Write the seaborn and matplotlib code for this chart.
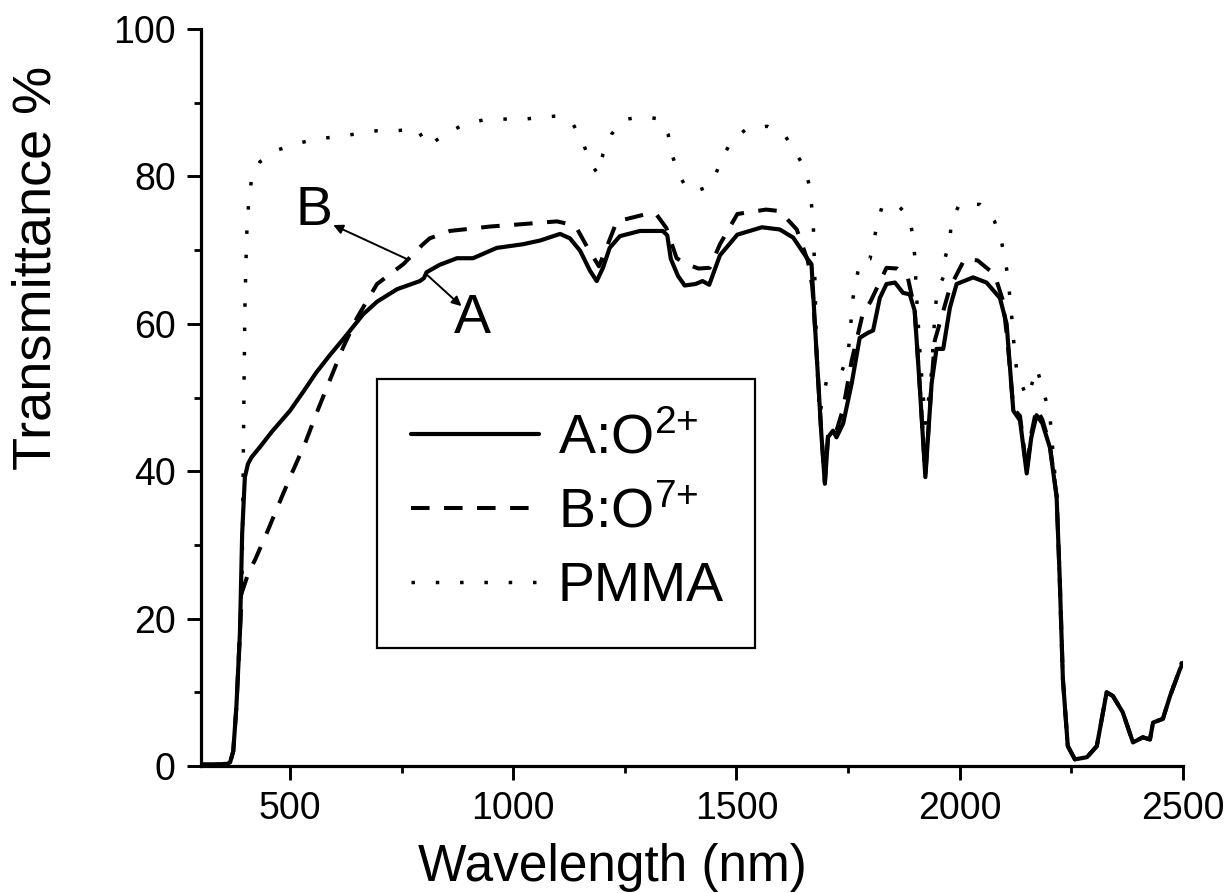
import numpy as np
import pandas as pd
import matplotlib
matplotlib.use("Agg")
import matplotlib.pyplot as plt
from matplotlib.ticker import MultipleLocator
import seaborn as sns

# ---- transmittance spectra (wavelength in nm, transmittance in %) ----
wl_a = [300, 330, 360, 366, 373, 380, 388, 393, 399, 406, 414, 433, 460, 500, 530,
        559, 590, 619, 664, 695, 740, 791, 800, 806, 835, 874, 910, 963, 1022, 1060,
        1105, 1127, 1150, 1172, 1187, 1201, 1216, 1239, 1284, 1335, 1345, 1353, 1369,
        1384, 1408, 1424, 1439, 1463, 1502, 1557, 1597, 1627, 1657, 1668, 1679, 1690,
        1698, 1705, 1716, 1724, 1739, 1758, 1776, 1795, 1806, 1821, 1836, 1855, 1873,
        1888, 1899, 1910, 1923, 1937, 1948, 1963, 1978, 1993, 2030, 2060, 2090, 2105,
        2120, 2135, 2150, 2160, 2172, 2185, 2202, 2217, 2224, 2231, 2242, 2258, 2285,
        2307, 2329, 2343, 2365, 2388, 2410, 2426, 2433, 2455, 2471, 2493, 2500]
t_a = [0.2, 0.2, 0.3, 0.5, 2.0, 8.0, 18.1, 31.6, 39.2, 41.0, 41.9, 43.3, 45.4, 48.2, 50.8,
       53.4, 55.8, 57.9, 61.3, 63.0, 64.7, 65.8, 66.2, 67.0, 68.0, 68.9, 68.9, 70.3, 70.8, 71.3,
       72.2, 71.6, 69.9, 67.2, 65.8, 67.6, 70.3, 71.9, 72.6, 72.6, 72.0, 68.8, 66.5,
       65.2, 65.4, 65.8, 65.3, 69.3, 72.1, 73.1, 72.8, 71.7, 69.0, 68.1, 56.4, 45.1,
       38.3, 44.6, 45.5, 44.6, 46.5, 51.9, 58.1, 58.8, 59.1, 63.5, 65.4, 65.6, 64.2,
       64.0, 61.8, 51.9, 39.2, 51.9, 56.6, 56.6, 62.2, 65.4, 66.3, 65.6, 63.5, 60.0,
       48.2, 46.9, 39.7, 44.5, 47.6, 46.5, 43.2, 36.5, 25.3, 11.8, 2.7, 0.9, 1.2,
       2.7, 10.0, 9.5, 7.3, 3.2, 3.9, 3.6, 5.9, 6.4, 9.5, 13.1, 14.0]

wl_b = [300, 330, 360, 366, 373, 380, 388, 392, 407, 422, 448, 474, 504, 534, 559,
        589, 619, 650, 695, 754, 798, 813, 858, 948, 1015, 1098, 1120, 1142, 1165, 1192,
        1210, 1232, 1299, 1320, 1343, 1366, 1388, 1415, 1440, 1463, 1502, 1566, 1597,
        1635, 1660, 1670, 1679, 1690, 1698, 1705, 1716, 1724, 1739, 1758, 1783, 1800,
        1836, 1860, 1884, 1899, 1910, 1923, 1937, 1944, 1978, 2011, 2040, 2078, 2097,
        2108, 2120, 2135, 2150, 2160, 2172, 2185, 2202, 2217, 2224, 2231, 2242, 2258,
        2285, 2307, 2329, 2343, 2365, 2388, 2410, 2426, 2433, 2455, 2471, 2493, 2500]
t_b = [0.2, 0.2, 0.3, 0.5, 2.0, 8.0, 18.1, 23.5, 26.2, 28.0, 31.6, 35.4, 39.7, 43.8, 47.8,
       52.3, 56.8, 60.8, 65.4, 68.1, 70.8, 71.6, 72.6, 73.2, 73.5, 73.9, 73.6, 73.0, 70.5, 67.8,
       70.5, 73.9, 74.9, 74.9, 73.0, 68.9, 68.1, 67.5, 67.6, 70.8, 74.9, 75.5, 75.3,
       72.8, 68.5, 65.0, 56.4, 45.1, 38.5, 44.8, 46.0, 45.5, 48.5, 55.0, 61.4, 63.0,
       67.6, 67.5, 66.2, 62.0, 52.0, 39.5, 52.0, 57.7, 64.9, 68.8, 68.6, 66.7, 63.1,
       57.0, 48.5, 47.5, 40.0, 45.0, 48.5, 47.0, 43.5, 36.6, 25.3, 11.8, 2.7, 0.9,
       1.2, 2.7, 10.0, 9.5, 7.3, 3.2, 3.9, 3.6, 5.9, 6.4, 9.5, 13.1, 14.0]

wl_p = [300, 330, 360, 366, 373, 380, 388, 393, 396, 399, 403, 408, 415, 433, 473,
        518, 563, 607, 652, 695, 740, 785, 799, 810, 830, 851, 896, 937, 974, 1014,
        1060, 1097, 1133, 1156, 1171, 1190, 1201, 1220, 1246, 1291, 1328, 1347, 1355,
        1369, 1389, 1410, 1427, 1451, 1467, 1490, 1526, 1569, 1608, 1635, 1653, 1664,
        1668, 1672, 1676, 1680, 1686, 1695, 1702, 1716, 1735, 1750, 1754, 1761, 1769,
        1776, 1799, 1806, 1814, 1825, 1858, 1888, 1895, 1899, 1903, 1912, 1923, 1935,
        1940, 1945, 1950, 1963, 1967, 1978, 1981, 2000, 2045, 2078, 2093, 2101, 2108,
        2112, 2116, 2119, 2123, 2127, 2138, 2150, 2160, 2172, 2185, 2202, 2217, 2224,
        2231, 2242, 2258, 2285, 2307, 2329, 2343, 2365, 2388, 2410, 2426, 2433, 2455,
        2471, 2493, 2500]
t_p = [0.2, 0.2, 0.3, 0.5, 2.0, 8.0, 18.1, 27.0, 45.0, 62.0, 72.0, 77.0, 80.0, 82.0, 83.6,
       84.5, 85.1, 85.4, 85.8, 86.2, 86.2, 86.5, 85.0, 84.1, 85.0, 85.9, 87.2, 87.7, 87.8, 87.7,
       88.0, 88.2, 87.2, 84.7, 82.0, 80.3, 83.0, 85.7, 87.7, 88.1, 87.8, 85.7, 83.1,
       80.5, 78.3, 78.0, 78.4, 79.9, 82.4, 84.9, 86.6, 86.8, 85.6, 83.0, 81.1, 78.6,
       76.2, 73.7, 65.0, 55.0, 47.5, 50.5, 52.3, 52.6, 53.4, 55.9, 58.6, 63.5, 66.1,
       68.5, 68.8, 70.8, 73.2, 75.7, 76.3, 74.4, 71.8, 69.3, 64.2, 55.0, 46.5, 52.0,
       56.8, 62.0, 64.5, 66.3, 68.9, 71.3, 73.9, 76.3, 76.2, 73.9, 71.3, 68.9, 66.3,
       63.8, 61.3, 58.8, 56.4, 53.9, 51.9, 50.0, 51.5, 54.0, 51.5, 47.5, 36.7, 25.3,
       11.8, 2.7, 0.9, 1.2, 2.7, 10.0, 9.5, 7.3, 3.2, 3.9, 3.6, 5.9, 6.4,
       9.5, 13.5, 14.5]

series_names = ["A:O$^{2{+}}$", "B:O$^{7{+}}$", "PMMA"]

x_ticks = [500, 1000, 1500, 2000, 2500]
y_ticks = [0, 20, 40, 60, 80, 100]

# curve call-outs: letter position, arrow tail (on curve) and arrow head (at letter)
label_b_pos = (554, 75.3)
arrow_b = ((765, 68.7), (597, 73.4))
label_a_pos = (908, 60.6)
arrow_a = ((806, 66.7), (884, 62.4))

sns.set_theme(style="ticks")
plt.rcParams["font.family"] = ["Liberation Sans", "DejaVu Sans"]
plt.rcParams["mathtext.fontset"] = "custom"
plt.rcParams["mathtext.rm"] = "Liberation Sans"
plt.rcParams["mathtext.default"] = "regular"
plt.rcParams["text.color"] = "black"
plt.rcParams["axes.labelcolor"] = "black"

fig = plt.figure(figsize=(12.31, 8.93), dpi=100)
ax = fig.add_axes([0.1630, 0.1422, 0.7980, 0.8253])

frames = [
    pd.DataFrame({"wl": wl_a, "T": t_a}),
    pd.DataFrame({"wl": wl_b, "T": t_b}),
    pd.DataFrame({"wl": wl_p, "T": t_p}),
]
styles = [
    dict(linestyle="-", linewidth=3.0),
    dict(linestyle=(0, (4.6, 3.6)), linewidth=2.9),
    dict(linestyle=(0, (1, 6.0)), linewidth=2.5),
]
for df, name, st in zip(frames, series_names, styles):
    sns.lineplot(data=df, x="wl", y="T", ax=ax, color="black", sort=False,
                 estimator=None, label=name, **st)

ax.set_xlim(300, 2500)
ax.set_ylim(0, 100)
ax.set_xticks(x_ticks)
ax.set_yticks(y_ticks)
ax.xaxis.set_minor_locator(MultipleLocator(250))
ax.yaxis.set_minor_locator(MultipleLocator(10))
ax.tick_params(which="major", direction="out", length=10, width=2.1, color="black",
               labelsize=27, pad=8, labelcolor="black")
ax.tick_params(which="minor", direction="out", length=5, width=2.0, color="black")
sns.despine(ax=ax)
for side in ("left", "bottom"):
    ax.spines[side].set_linewidth(2.3)
    ax.spines[side].set_color("black")

ax.set_xlabel("Wavelength (nm)", fontsize=37, color="black")
ax.set_ylabel("Transmittance %", fontsize=39, color="black")
ax.xaxis.set_label_coords(0.419, -0.105)
ax.yaxis.set_label_coords(-0.142, 0.676)

# call-out letters with arrows
ax.text(*label_b_pos, "B", fontsize=40, ha="center", va="center", color="black")
ax.text(*label_a_pos, "A", fontsize=40, ha="center", va="center", color="black")
for tail, head in (arrow_b, arrow_a):
    ax.annotate("", xy=head, xytext=tail,
                arrowprops=dict(arrowstyle="-|>", lw=1.4, color="black",
                                mutation_scale=14, shrinkA=0, shrinkB=0))

leg = ax.legend(loc="upper left", bbox_to_anchor=(0.1795, 0.1676, 0.3848, 0.3581),
                mode="expand", borderaxespad=0, fontsize=40, frameon=True,
                fancybox=False, edgecolor="black", framealpha=1,
                handlelength=2.3, handletextpad=0.33, borderpad=0.62,
                labelspacing=0.4)
leg.get_frame().set_linewidth(1.6)
for txt in leg.get_texts():
    txt.set_color("black")

fig.savefig("out.png", dpi=100, facecolor="white")
